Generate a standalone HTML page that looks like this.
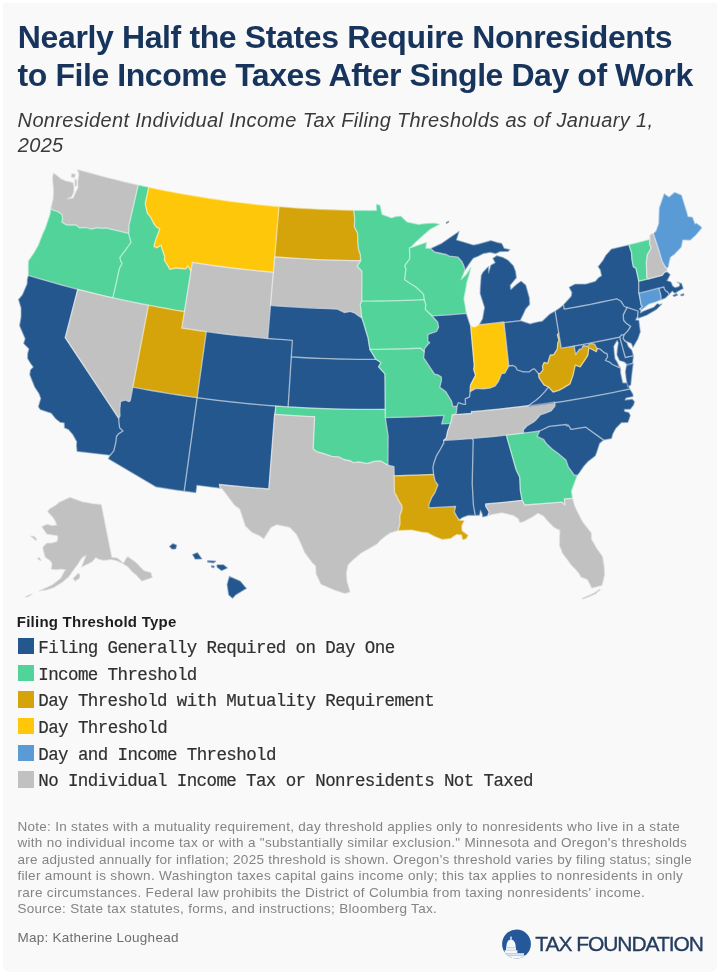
<!DOCTYPE html>
<html><head><meta charset="utf-8"><title>Nonresident Income Tax Filing Thresholds</title>
<style>
html,body{margin:0;padding:0;background:#fff;}
body{width:720px;height:977px;position:relative;overflow:hidden;}
#card{position:absolute;left:3px;top:3px;width:714px;height:969px;background:#f9f9f9;border-radius:0 0 7px 7px;}
.t{position:absolute;white-space:pre;}
.sw{position:absolute;left:17.75px;width:16.3px;height:16.3px;}
svg{position:absolute;left:0;top:0;}
</style></head><body>
<div id="card"></div>
<svg width="720" height="977" viewBox="0 0 720 977"><g stroke-width="0.4" stroke-linejoin="round">
<path id="WA" fill="#c1c1c1" stroke="#c1c1c1" d="M77.3,169.4L84.9,171.5L92.4,173.6L100.0,175.7L107.6,177.7L115.3,179.6L122.9,181.5L130.5,183.3L138.2,185.0L128.8,226.1L128.9,230.0L128.6,233.3L105.6,227.9L101.7,228.3L98.1,227.6L90.8,229.0L85.9,227.5L79.4,227.8L76.1,225.0L71.1,225.0L66.2,224.8L62.0,222.2L62.6,218.6L62.0,214.5L57.5,211.5L53.1,210.1L50.7,208.4L52.3,202.2L53.2,198.1L53.5,193.1L53.4,187.9L52.6,180.8L52.6,176.1L53.7,172.9L58.1,176.3L61.3,179.0L66.5,181.2L69.8,181.7L73.2,182.8L74.0,187.2L73.7,192.2L71.8,196.8L67.1,198.8L73.2,198.0L75.4,192.7L78.0,187.4L77.7,182.3L78.9,174.1ZM71.6,173.7L75.5,174.0L74.4,177.9L71.2,177.0ZM74.8,179.7L76.8,179.4L76.6,186.2L74.9,186.1Z"/>
<path id="OR" fill="#52d39a" stroke="#52d39a" d="M50.7,208.4L53.1,210.1L57.5,211.5L62.0,214.5L62.6,218.6L62.0,222.2L66.2,224.8L71.1,225.0L76.1,225.0L79.4,227.8L85.9,227.5L90.8,229.0L98.1,227.6L101.7,228.3L105.6,227.9L128.6,233.3L129.5,236.9L131.0,242.3L128.4,246.0L125.8,249.7L119.8,257.6L120.8,261.3L122.2,263.3L119.5,268.1L112.9,297.8L104.3,295.8L95.8,293.8L87.3,291.7L78.8,289.6L70.3,287.4L61.9,285.1L53.5,282.7L45.0,280.3L36.6,277.9L28.3,275.4L28.2,267.5L28.4,260.8L34.0,252.8L38.2,245.4L42.6,234.1L45.2,228.5L47.9,220.6L50.0,214.4L50.9,209.5Z"/>
<path id="CA" fill="#24578e" stroke="#24578e" d="M28.3,275.4L36.4,277.8L44.7,280.2L52.9,282.6L61.1,284.9L69.4,287.1L77.7,289.3L65.2,337.7L118.7,418.3L118.9,421.7L119.6,427.8L123.0,431.0L118.4,433.9L116.5,436.5L115.8,442.3L113.8,450.8L110.1,455.3L77.0,451.5L76.4,445.9L76.7,441.7L72.7,434.6L68.3,429.5L64.4,427.9L64.2,422.9L60.2,422.4L55.5,418.7L51.2,413.3L40.1,409.6L38.3,406.8L40.7,398.5L39.0,393.8L34.6,387.0L29.7,374.8L30.4,369.8L33.2,367.1L30.7,363.8L27.5,358.6L27.6,353.4L28.9,348.9L23.5,343.5L25.1,338.8L19.5,325.8L21.0,316.7L21.0,308.0L18.4,299.5L22.5,294.5L27.1,283.7L27.2,279.4Z"/>
<path id="NV" fill="#c1c1c1" stroke="#c1c1c1" d="M77.7,289.3L86.5,291.5L95.3,293.7L104.1,295.8L113.0,297.8L121.8,299.8L130.7,301.6L139.6,303.5L148.5,305.2L130.3,400.3L129.2,401.7L125.5,400.1L120.6,401.4L119.7,410.0L120.0,416.0L118.7,418.3L65.2,337.7Z"/>
<path id="ID" fill="#52d39a" stroke="#52d39a" d="M138.2,185.0L143.5,186.2L148.7,187.3L145.2,203.6L147.3,213.0L150.9,217.6L153.5,223.0L156.3,226.9L159.8,228.9L157.1,235.9L155.5,240.7L153.9,246.1L156.5,247.9L161.1,245.3L162.5,250.4L164.8,256.8L164.2,260.0L168.4,266.7L169.7,269.3L175.9,268.0L181.8,268.5L185.9,268.9L187.8,265.8L190.9,271.0L184.4,311.5L175.4,310.1L166.5,308.5L157.5,306.9L148.5,305.2L139.6,303.5L130.7,301.6L121.8,299.7L112.9,297.8L119.5,268.1L122.2,263.3L120.8,261.3L119.8,257.6L125.8,249.7L128.4,246.0L131.0,242.3L129.5,236.9L128.6,233.3L128.9,230.0L128.8,226.1L138.2,185.0Z"/>
<path id="MT" fill="#ffc70a" stroke="#ffc70a" d="M148.7,187.3L156.3,188.9L163.9,190.5L171.5,191.9L179.1,193.4L186.7,194.7L194.4,196.1L202.0,197.3L209.7,198.5L217.3,199.6L225.0,200.7L232.7,201.8L240.4,202.7L248.1,203.6L255.8,204.5L263.5,205.3L271.2,206.0L278.9,206.7L273.5,272.3L265.3,271.5L257.2,270.8L249.0,269.9L240.9,269.0L232.8,268.1L224.7,267.0L216.6,266.0L208.5,264.8L200.4,263.6L192.3,262.4L190.9,271.0L187.8,265.8L185.9,268.9L181.8,268.5L175.9,268.0L169.7,269.3L168.4,266.7L164.2,260.0L164.8,256.8L162.5,250.4L161.1,245.3L156.5,247.9L153.9,246.1L155.5,240.7L157.1,235.9L159.8,228.9L156.3,226.9L153.5,223.0L150.9,217.6L147.3,213.0L145.2,203.6L148.7,187.3Z"/>
<path id="WY" fill="#c1c1c1" stroke="#c1c1c1" d="M192.3,262.4L200.4,263.6L208.4,264.8L216.5,266.0L224.6,267.0L232.7,268.0L240.8,269.0L249.0,269.9L257.1,270.8L265.2,271.5L273.3,272.3L267.7,338.5L259.1,337.7L250.5,336.9L241.9,336.0L233.3,335.0L224.7,334.0L216.1,332.9L207.5,331.8L198.9,330.6L190.4,329.3L181.8,328.0Z"/>
<path id="UT" fill="#d4a40a" stroke="#d4a40a" d="M148.5,305.2L157.5,306.9L166.5,308.5L175.4,310.1L184.4,311.5L181.8,328.0L190.0,329.2L198.1,330.5L206.3,331.6L197.1,397.7L187.9,396.4L178.7,395.0L169.5,393.6L160.3,392.0L151.1,390.5L142.0,388.8L132.8,387.1Z"/>
<path id="CO" fill="#24578e" stroke="#24578e" d="M206.3,331.6L214.9,332.8L223.4,333.9L232.0,334.9L240.6,335.8L249.3,336.7L257.9,337.6L266.5,338.4L275.1,339.1L283.8,339.7L292.4,340.3L288.1,406.9L279.0,406.3L269.9,405.6L260.8,404.8L251.7,404.0L242.6,403.1L233.5,402.2L224.4,401.2L215.3,400.1L206.2,398.9L197.1,397.7Z"/>
<path id="AZ" fill="#24578e" stroke="#24578e" d="M132.8,387.1L142.0,388.8L151.1,390.5L160.3,392.0L169.5,393.6L178.7,395.0L187.9,396.4L197.1,397.7L184.2,491.2L174.9,489.9L165.5,488.5L156.1,487.0L108.2,458.8L110.1,455.3L113.8,450.8L115.8,442.3L116.5,436.5L118.4,433.9L123.0,431.0L119.6,427.8L118.9,421.7L118.7,418.3L120.0,416.0L119.7,410.0L120.6,401.4L125.5,400.1L129.2,401.7L130.3,400.3Z"/>
<path id="NM" fill="#24578e" stroke="#24578e" d="M197.1,397.7L205.9,398.9L214.6,400.0L223.3,401.0L232.0,402.0L240.8,402.9L249.5,403.8L258.2,404.6L267.0,405.3L275.8,406.0L274.6,414.3L268.8,489.0L258.9,488.2L249.0,487.4L239.1,486.4L229.2,485.5L219.4,484.4L220.2,488.2L212.4,487.3L204.7,486.3L196.9,485.3L195.9,492.8L190.1,492.0L184.2,491.2Z"/>
<path id="ND" fill="#d4a40a" stroke="#d4a40a" d="M278.9,206.7L286.4,207.3L293.8,207.9L301.3,208.4L308.8,208.8L316.3,209.2L323.7,209.6L331.2,209.8L338.7,210.1L346.2,210.3L353.7,210.4L354.7,218.6L354.3,226.7L357.6,233.3L357.8,243.2L358.6,249.8L360.3,254.2L360.7,260.7L352.1,260.6L343.5,260.4L334.9,260.2L326.3,259.9L317.7,259.6L309.0,259.1L300.4,258.7L291.8,258.1L283.2,257.5L274.7,256.8Z"/>
<path id="SD" fill="#c1c1c1" stroke="#c1c1c1" d="M274.7,256.8L283.2,257.5L291.8,258.1L300.4,258.7L309.0,259.1L317.7,259.6L326.3,259.9L334.9,260.2L343.5,260.4L352.1,260.6L360.7,260.7L357.2,266.3L361.9,271.3L361.8,301.1L360.2,304.4L360.9,309.4L361.8,317.9L358.7,316.0L355.1,313.2L350.3,311.4L344.3,312.5L337.1,309.0L328.8,308.7L320.5,308.4L312.1,308.1L303.8,307.6L295.5,307.1L287.2,306.6L278.9,306.0L270.5,305.3Z"/>
<path id="NE" fill="#24578e" stroke="#24578e" d="M270.5,305.3L278.9,306.0L287.2,306.6L295.5,307.1L303.8,307.6L312.1,308.1L320.5,308.4L328.8,308.7L337.1,309.0L344.3,312.5L350.3,311.4L355.1,313.2L358.7,316.0L361.8,317.9L363.5,322.7L365.9,331.0L368.0,337.7L369.0,344.3L370.0,349.7L373.4,355.2L375.8,359.3L366.4,359.3L357.0,359.3L347.6,359.2L338.2,359.0L328.9,358.7L319.5,358.4L310.1,358.0L300.7,357.5L291.3,356.9L292.4,340.3L284.2,339.7L275.9,339.1L267.7,338.5Z"/>
<path id="KS" fill="#24578e" stroke="#24578e" d="M291.3,356.9L300.7,357.5L310.1,358.0L319.5,358.4L328.9,358.7L338.2,359.0L347.6,359.2L357.0,359.3L366.4,359.3L375.8,359.3L381.0,362.6L378.5,366.8L384.9,373.9L385.2,409.3L375.5,409.4L365.8,409.4L356.1,409.3L346.4,409.2L336.6,409.0L326.9,408.7L317.2,408.4L307.5,408.0L297.8,407.5L288.1,406.9Z"/>
<path id="OK" fill="#52d39a" stroke="#52d39a" d="M275.8,406.0L284.9,406.7L294.0,407.2L303.1,407.7L312.2,408.2L321.3,408.5L330.4,408.8L339.6,409.1L348.7,409.3L357.8,409.4L366.9,409.4L376.1,409.4L385.2,409.3L385.3,417.6L388.1,435.9L387.9,465.2L380.8,461.0L374.0,461.4L367.2,463.6L359.0,461.9L353.5,462.7L350.8,461.0L344.0,459.5L338.7,456.9L331.9,456.4L323.8,453.7L317.1,451.8L313.2,448.9L314.6,416.6L306.7,416.3L298.8,415.9L290.9,415.4L283.0,414.9L275.1,414.3Z"/>
<path id="TX" fill="#c1c1c1" stroke="#c1c1c1" d="M274.6,414.3L282.6,414.9L290.6,415.4L298.6,415.8L306.6,416.3L314.6,416.6L313.2,448.9L317.1,451.8L323.8,453.7L331.9,456.4L338.7,456.9L344.0,459.5L350.8,461.0L353.5,462.7L359.0,461.9L367.2,463.6L374.0,461.4L380.8,461.0L387.9,465.2L394.0,466.6L394.1,475.4L394.5,492.5L396.5,495.6L397.7,498.9L402.0,505.8L401.8,510.4L399.8,515.5L400.0,523.7L398.1,530.4L390.2,533.0L385.2,536.4L380.2,540.6L377.3,543.9L367.2,549.7L361.3,553.0L352.5,560.4L348.0,565.3L346.4,573.5L347.1,581.7L349.9,590.7L349.9,592.2L344.6,593.6L334.2,590.1L320.9,584.3L316.1,574.3L315.6,566.1L312.1,562.7L304.5,552.4L301.8,545.7L296.6,534.7L289.8,527.4L277.0,524.8L271.1,527.4L263.8,538.9L259.0,535.6L252.0,532.5L245.3,526.1L243.1,519.3L239.7,509.0L234.4,505.2L226.9,495.2L222.0,488.8L220.2,488.2L219.4,484.4L229.2,485.5L239.1,486.4L249.0,487.4L258.9,488.2L268.8,489.0Z"/>
<path id="MN" fill="#52d39a" stroke="#52d39a" d="M353.7,210.4L361.3,210.4L368.9,210.5L376.5,210.4L376.4,204.2L380.0,205.2L382.0,214.4L391.5,217.9L395.9,216.6L400.8,216.1L407.1,222.0L418.4,224.4L425.6,223.6L433.9,223.1L439.7,224.2L430.6,229.0L423.4,235.2L416.2,241.8L411.5,246.4L409.4,248.0L409.8,257.7L409.1,259.7L404.7,265.7L406.0,268.9L405.1,275.6L404.6,279.7L410.6,283.7L415.5,286.8L421.7,292.3L423.6,294.7L424.2,299.7L415.3,300.1L406.4,300.4L397.4,300.7L388.5,300.9L379.6,301.0L370.7,301.1L361.8,301.1L361.9,271.3L357.2,266.3L360.7,260.7L360.3,254.2L358.6,249.8L357.8,243.2L357.6,233.3L354.3,226.7L354.7,218.6L353.7,210.4Z"/>
<path id="IA" fill="#52d39a" stroke="#52d39a" d="M361.8,301.1L370.7,301.1L379.6,301.0L388.5,300.9L397.4,300.7L406.4,300.4L415.3,300.1L424.2,299.7L425.8,304.6L425.3,309.6L432.0,315.7L437.7,322.2L438.6,327.1L436.5,331.5L428.0,334.4L427.7,341.1L429.7,342.7L427.9,344.4L424.4,348.8L424.3,351.6L420.2,348.0L420.3,348.1L411.9,348.5L403.5,348.8L395.1,349.0L386.8,349.2L378.4,349.3L370.0,349.3L370.0,349.7L369.0,344.3L368.0,337.7L365.9,331.0L363.5,322.7L361.8,317.9L360.9,309.4L360.2,304.4L361.8,301.1Z"/>
<path id="MO" fill="#52d39a" stroke="#52d39a" d="M370.0,349.7L370.0,349.3L378.4,349.3L386.8,349.2L395.1,349.0L403.5,348.8L411.9,348.5L420.3,348.1L424.3,351.6L423.6,358.0L424.9,359.6L429.7,366.9L434.5,374.1L437.8,374.8L441.3,377.1L441.5,379.9L439.8,387.2L445.9,391.8L451.7,401.5L452.7,406.4L456.9,406.5L456.4,412.9L453.9,414.7L452.2,414.8L451.6,419.9L450.5,423.3L446.1,423.6L441.7,423.9L444.1,415.4L434.3,415.9L424.5,416.4L414.7,416.8L404.9,417.2L395.1,417.4L385.3,417.6L384.9,373.9L378.5,366.8L381.0,362.6L375.8,359.3L373.4,355.2L370.0,349.7Z"/>
<path id="AR" fill="#24578e" stroke="#24578e" d="M385.3,417.6L395.1,417.4L404.9,417.2L414.7,416.8L424.5,416.4L434.3,415.9L444.1,415.4L441.7,423.9L446.1,423.6L450.5,423.3L447.7,431.0L446.2,438.1L443.6,440.4L443.8,442.9L440.5,449.0L436.4,455.9L434.0,462.7L432.9,467.7L433.6,474.3L423.8,474.8L413.9,475.2L404.0,475.5L394.2,475.8L394.0,466.6L387.9,465.2L388.1,435.9Z"/>
<path id="LA" fill="#d4a40a" stroke="#d4a40a" d="M394.1,475.4L394.2,475.8L404.0,475.5L413.9,475.2L423.8,474.8L433.6,474.3L435.0,480.9L437.9,484.9L434.9,492.6L431.6,497.7L429.1,503.7L428.8,507.8L437.8,507.4L446.7,506.9L455.6,506.3L454.3,511.9L457.5,517.8L459.5,519.7L458.4,520.2L464.2,520.7L461.7,525.8L462.0,530.8L468.1,535.3L466.2,538.7L462.6,539.8L461.6,534.9L456.5,534.5L452.3,537.2L450.9,538.4L442.3,539.4L434.9,536.5L427.5,532.7L421.8,532.1L411.6,530.0L398.1,530.4L400.0,523.7L399.8,515.5L401.8,510.4L402.0,505.8L397.7,498.9L396.5,495.6L394.5,492.5Z"/>
<path id="WI" fill="#52d39a" stroke="#52d39a" d="M409.4,248.0L412.6,247.2L421.6,244.0L426.6,242.4L425.8,248.2L430.7,248.4L434.4,252.0L446.2,254.5L449.2,256.1L458.0,257.2L461.8,261.4L464.0,266.2L464.9,270.3L461.0,279.7L466.4,274.3L471.0,267.2L468.9,275.7L466.9,281.7L465.5,290.2L463.8,298.6L464.9,304.4L466.3,313.6L466.3,313.4L457.7,314.1L449.2,314.8L440.6,315.4L432.0,315.9L432.0,315.7L425.3,309.6L425.8,304.6L424.2,299.7L423.6,294.7L421.7,292.3L415.5,286.8L410.6,283.7L404.6,279.7L405.1,275.6L406.0,268.9L404.7,265.7L409.1,259.7L409.8,257.7L409.4,248.0Z"/>
<path id="IL" fill="#24578e" stroke="#24578e" d="M432.0,315.7L432.0,315.9L440.6,315.4L449.2,314.8L457.7,314.1L466.3,313.4L469.7,324.0L470.7,326.4L474.2,365.4L473.7,369.6L475.5,375.3L472.8,380.6L470.5,385.0L470.1,391.7L469.6,396.8L465.2,398.8L465.6,404.3L463.7,404.3L458.3,402.7L456.9,406.5L452.7,406.4L451.7,401.5L445.9,391.8L439.8,387.2L441.5,379.9L441.3,377.1L437.8,374.8L434.5,374.1L429.7,366.9L424.9,359.6L423.6,358.0L424.3,351.6L424.4,348.8L427.9,344.4L429.7,342.7L427.7,341.1L428.0,334.4L436.5,331.5L438.6,327.1L437.7,322.2L432.0,315.7Z"/>
<path id="IN" fill="#ffc70a" stroke="#ffc70a" d="M470.7,326.4L474.9,327.2L479.3,324.6L487.5,323.8L495.7,322.9L503.9,322.0L508.8,366.0L504.8,373.2L501.6,373.6L498.6,381.1L495.2,386.0L489.6,388.2L483.2,388.9L475.8,388.4L470.1,391.7L470.5,385.0L472.8,380.6L475.5,375.3L473.7,369.6L474.2,365.4Z"/>
<path id="MI" fill="#24578e" stroke="#24578e" d="M479.3,324.6L482.6,318.6L484.5,307.5L480.1,293.8L480.2,287.9L481.2,275.3L483.2,271.8L488.5,266.2L488.6,272.9L490.7,265.2L495.1,262.7L492.8,258.3L496.8,255.6L503.2,257.4L508.2,260.2L513.3,265.6L515.6,271.3L516.5,277.8L510.3,285.3L510.8,289.4L516.2,284.6L521.1,281.0L525.8,284.9L529.4,297.8L529.8,304.5L525.6,309.3L523.2,314.6L520.3,320.4L520.3,320.6L512.1,321.6L503.9,322.6L503.9,322.0L495.7,322.9L487.5,323.8L479.3,324.6ZM430.7,248.4L441.7,243.3L450.0,237.5L459.2,231.3L457.5,236.7L456.5,240.0L466.7,243.0L473.3,245.0L478.3,244.0L490.8,240.5L497.5,242.5L501.7,243.3L504.2,248.3L510.0,249.5L508.3,251.5L500.0,251.7L495.8,253.7L490.0,252.5L483.3,253.7L478.3,256.3L473.3,258.3L470.8,261.7L464.9,270.3L464.0,266.2L461.8,261.4L458.0,257.2L449.2,256.1L446.2,254.5L434.4,252.0L430.7,248.4ZM446.0,222.5L448.5,221.0L449.0,222.0L446.5,223.8Z"/>
<path id="OH" fill="#24578e" stroke="#24578e" d="M504.0,322.9L503.9,322.6L512.1,321.6L520.3,320.6L526.2,322.6L530.1,323.8L538.5,321.7L542.1,321.2L549.7,314.1L555.1,311.0L558.7,333.0L557.4,334.8L558.9,340.4L557.8,342.8L557.2,349.2L553.6,354.8L550.4,355.0L549.4,357.6L547.8,363.3L544.1,362.5L542.5,366.3L543.0,369.9L540.3,373.3L538.5,373.6L534.5,368.9L532.6,369.2L529.1,371.9L523.3,371.8L517.3,370.0L515.6,366.9L512.9,365.5L508.8,366.0Z"/>
<path id="KY" fill="#24578e" stroke="#24578e" d="M508.8,366.0L512.9,365.5L515.6,366.9L517.3,370.0L523.3,371.8L529.1,371.9L532.6,369.2L534.5,368.9L538.5,373.6L539.0,377.7L543.9,384.9L548.5,387.0L544.9,391.6L540.3,396.4L535.6,400.4L528.6,405.6L519.1,406.8L509.6,407.9L500.1,409.0L490.6,409.9L481.0,410.9L471.5,411.7L471.4,413.4L462.7,414.1L453.9,414.7L456.4,412.9L456.9,406.5L458.3,402.7L463.7,404.3L465.6,404.3L465.2,398.8L469.6,396.8L470.1,391.7L475.8,388.4L483.2,388.9L489.6,388.2L495.2,386.0L498.6,381.1L501.6,373.6L504.8,373.2L508.8,366.0Z"/>
<path id="TN" fill="#c1c1c1" stroke="#c1c1c1" d="M554.6,402.1L555.0,406.1L551.0,410.9L544.1,413.6L540.2,415.0L536.2,419.7L533.2,422.3L526.9,426.0L523.4,429.8L523.5,433.3L523.5,433.1L513.6,434.3L503.6,435.4L493.6,436.5L483.6,437.4L473.6,438.3L463.6,439.1L453.6,439.8L443.6,440.4L446.2,438.1L447.7,431.0L450.5,423.3L451.6,419.9L452.2,414.8L453.9,414.7L462.7,414.1L471.4,413.4L471.5,411.2L471.5,411.7L480.8,410.9L490.0,410.0L499.3,409.1L508.5,408.0L517.8,406.9L527.0,405.8L536.2,404.6L545.4,403.3L554.6,401.9Z"/>
<path id="MS" fill="#24578e" stroke="#24578e" d="M443.6,440.4L453.0,439.8L462.4,439.2L471.7,438.4L473.2,440.0L472.2,483.5L473.4,505.0L475.2,515.4L468.1,515.4L462.5,517.5L459.5,519.7L457.5,517.8L454.3,511.9L455.6,506.3L446.7,506.9L437.8,507.4L428.8,507.8L429.1,503.7L431.6,497.7L434.9,492.6L437.9,484.9L435.0,480.9L433.6,474.3L432.9,467.7L434.0,462.7L436.4,455.9L440.5,449.0L443.8,442.9L443.6,440.4Z"/>
<path id="AL" fill="#24578e" stroke="#24578e" d="M471.7,438.4L480.4,437.7L489.0,436.9L497.7,436.0L506.3,435.1L506.4,435.5L516.1,469.7L519.7,477.2L520.3,490.5L522.1,500.3L513.0,501.3L503.9,502.3L494.8,503.2L485.6,504.0L485.8,506.5L489.2,512.0L487.8,515.8L482.5,517.1L482.2,514.3L480.5,510.3L479.5,515.3L475.2,515.4L473.4,505.0L472.2,483.5L473.2,440.0L471.7,438.4Z"/>
<path id="GA" fill="#52d39a" stroke="#52d39a" d="M506.4,435.5L506.3,435.1L514.7,434.2L523.0,433.2L531.3,432.1L539.6,431.0L537.1,436.4L543.7,439.7L546.3,443.6L551.8,448.7L558.8,454.0L565.9,460.0L568.4,467.2L572.9,473.2L573.8,474.8L577.2,475.4L574.4,483.1L571.4,491.1L572.5,498.1L570.4,498.5L564.3,498.9L565.0,505.1L562.1,502.2L524.7,505.0L522.1,500.3L520.3,490.5L519.7,477.2L516.1,469.7L506.4,435.5Z"/>
<path id="FL" fill="#c1c1c1" stroke="#c1c1c1" d="M485.6,504.0L494.8,503.2L503.9,502.3L513.0,501.3L522.1,500.3L524.7,505.0L562.1,502.2L565.0,505.1L564.3,498.9L570.4,498.5L572.5,498.1L574.4,505.0L577.1,511.1L582.8,522.0L591.4,532.9L591.4,539.0L596.6,548.1L602.5,556.4L604.3,566.8L604.6,575.0L603.0,581.9L602.0,585.4L591.8,588.2L587.3,579.5L580.9,577.2L578.8,573.3L574.3,568.2L570.7,564.6L567.0,559.3L562.4,553.3L561.1,549.4L559.4,546.0L559.5,538.0L559.9,530.4L553.9,527.4L547.7,521.2L543.4,516.0L538.0,513.3L533.4,516.4L524.6,521.3L519.7,522.7L518.5,519.0L513.9,515.7L502.1,512.8L492.3,514.5L487.8,515.8L489.2,512.0L485.8,506.5L485.6,504.0ZM582.7,599.2L590.0,596.4L595.7,593.9L600.5,589.8L599.6,589.1L594.1,593.0L582.5,598.1Z"/>
<path id="SC" fill="#24578e" stroke="#24578e" d="M539.6,431.0L549.2,426.3L566.7,424.5L567.0,426.1L568.3,425.1L571.0,429.4L585.8,427.2L603.7,440.1L599.6,443.6L596.7,452.4L595.3,456.0L588.1,461.5L583.7,466.4L579.2,473.1L577.2,475.4L573.8,474.8L572.9,473.2L568.4,467.2L565.9,460.0L558.8,454.0L551.8,448.7L546.3,443.6L543.7,439.7L537.1,436.4L539.6,431.0Z"/>
<path id="NC" fill="#24578e" stroke="#24578e" d="M523.5,433.3L523.4,429.8L526.9,426.0L533.2,422.3L536.2,419.7L540.2,415.0L544.1,413.6L551.0,410.9L555.0,406.1L554.6,402.1L554.7,402.7L564.2,401.3L573.6,399.7L583.0,398.1L592.4,396.4L601.8,394.7L611.2,392.8L620.5,390.9L629.9,389.0L633.0,394.3L633.1,396.6L626.0,398.1L625.1,400.0L632.3,399.0L634.6,401.6L633.6,405.2L630.4,409.3L624.3,409.4L624.7,411.4L629.0,412.5L630.4,415.6L628.0,422.6L621.5,422.7L615.8,428.5L612.8,434.1L611.6,438.6L603.7,440.1L585.8,427.2L571.0,429.4L568.3,425.1L567.0,426.1L566.7,424.5L549.2,426.3L539.6,431.0L531.6,432.1L523.5,433.1Z"/>
<path id="VA" fill="#24578e" stroke="#24578e" d="M528.6,405.6L535.6,400.4L540.3,396.4L544.9,391.6L548.5,387.0L553.1,392.0L558.9,390.4L563.4,387.9L570.0,383.9L573.0,375.3L575.3,365.1L580.2,366.9L584.6,360.4L587.8,355.4L588.9,347.7L596.4,351.7L597.2,348.5L599.7,348.8L604.1,352.6L607.0,353.7L607.6,357.0L605.3,360.5L609.2,361.8L612.4,364.5L620.5,368.1L620.7,373.0L622.8,382.8L626.9,383.1L629.9,389.0L620.7,390.9L611.6,392.8L602.4,394.6L593.2,396.3L584.1,397.9L574.9,399.5L565.6,401.0L556.4,402.5L547.2,403.9L537.9,405.2L528.7,406.4ZM626.7,364.2L633.3,363.3L632.0,373.3L630.8,385.0L627.8,387.0L626.3,380.0L625.3,371.7Z"/>
<path id="WV" fill="#d4a40a" stroke="#d4a40a" d="M538.5,373.6L540.3,373.3L543.0,369.9L542.5,366.3L544.1,362.5L547.8,363.3L549.4,357.6L550.4,355.0L553.6,354.8L557.2,349.2L557.8,342.8L558.9,340.4L557.4,334.8L558.7,333.0L561.2,348.2L567.7,347.1L574.1,346.0L575.6,354.5L579.6,349.2L581.5,349.2L583.3,345.5L587.4,346.5L590.3,343.4L594.7,344.2L595.8,346.6L597.2,348.5L596.4,351.7L588.9,347.7L587.8,355.4L584.6,360.4L580.2,366.9L575.3,365.1L573.0,375.3L570.0,383.9L563.4,387.9L558.9,390.4L553.1,392.0L548.5,387.0L543.9,384.9L539.0,377.7L538.5,373.6Z"/>
<path id="MD" fill="#24578e" stroke="#24578e" d="M574.1,346.0L583.3,344.3L592.4,342.6L601.5,340.8L610.6,339.0L619.7,337.1L625.3,357.4L625.3,357.5L629.4,356.6L633.5,355.7L632.6,363.1L627.7,365.5L624.3,362.0L619.4,360.5L616.9,355.0L617.2,349.9L618.3,342.8L617.1,340.5L613.8,346.3L614.2,351.4L615.1,358.8L617.1,361.8L619.0,365.9L620.5,368.1L612.4,364.5L609.2,361.8L605.3,360.5L607.6,357.0L607.0,353.7L604.1,352.6L599.7,348.8L597.2,348.5L595.8,346.6L594.7,344.2L590.3,343.4L587.4,346.5L583.3,345.5L581.5,349.2L579.6,349.2L575.6,354.5Z"/>
<path id="DE" fill="#24578e" stroke="#24578e" d="M619.7,337.1L621.7,334.8L624.0,334.8L623.1,338.4L624.3,340.7L626.9,342.7L628.4,346.6L631.8,350.1L633.5,355.7L629.4,356.6L625.3,357.5Z"/>
<path id="NJ" fill="#24578e" stroke="#24578e" d="M627.1,307.4L638.0,311.0L637.7,316.2L635.7,320.1L638.9,320.2L640.4,331.9L637.9,339.1L633.0,347.6L631.3,343.4L625.7,341.2L623.1,338.4L624.0,334.8L627.4,331.4L630.7,326.4L626.2,323.2L623.6,320.3L623.3,314.9L627.1,307.4Z"/>
<path id="PA" fill="#24578e" stroke="#24578e" d="M555.1,311.0L560.0,307.7L563.4,304.7L564.2,309.1L573.0,307.6L581.8,306.0L590.6,304.3L599.3,302.5L608.1,300.7L616.8,298.8L621.0,301.3L624.3,306.5L627.1,307.4L623.3,314.9L623.6,320.3L626.2,323.2L630.7,326.4L627.4,331.4L624.0,334.8L621.7,334.8L619.7,337.1L611.4,338.8L603.1,340.5L594.7,342.2L586.4,343.8L578.0,345.3L569.6,346.8L561.2,348.2Z"/>
<path id="NY" fill="#24578e" stroke="#24578e" d="M563.4,304.7L571.3,296.1L571.8,292.6L569.0,287.2L575.1,284.0L586.1,284.0L595.3,281.3L598.3,277.8L601.5,275.8L600.3,270.1L598.0,266.7L603.0,260.2L605.6,255.4L611.3,249.0L613.6,248.5L621.3,246.7L629.0,244.9L628.9,244.7L631.5,252.8L631.9,259.5L633.3,266.8L635.9,268.4L638.7,280.9L638.7,292.9L638.9,292.9L641.1,305.2L642.3,306.4L639.7,308.9L641.0,310.3L640.4,313.0L643.1,311.2L649.0,308.9L653.6,307.2L657.4,303.4L659.3,304.4L662.2,303.8L656.7,309.4L646.7,315.3L638.0,318.4L637.7,316.2L638.0,311.0L627.1,307.4L624.3,306.5L621.0,301.3L616.8,298.8L608.1,300.7L599.3,302.5L590.6,304.3L581.8,306.0L573.0,307.6L564.2,309.1Z"/>
<path id="CT" fill="#5b9bd5" stroke="#5b9bd5" d="M638.9,292.9L638.9,293.0L645.6,291.4L652.2,289.7L658.9,288.0L658.9,288.3L660.8,295.1L661.2,299.8L655.5,302.1L649.0,304.1L645.8,306.6L641.0,310.3L639.7,308.9L642.3,306.4L641.1,305.2L638.9,292.9Z"/>
<path id="RI" fill="#24578e" stroke="#24578e" d="M658.9,288.3L661.4,287.7L663.9,287.0L664.4,289.0L665.5,290.7L667.5,291.9L669.2,294.6L668.4,295.3L665.5,298.0L661.2,299.8L660.8,295.1L658.9,288.3Z"/>
<path id="MA" fill="#24578e" stroke="#24578e" d="M638.7,280.9L638.8,281.2L646.7,279.3L654.5,277.3L662.4,275.2L664.7,272.2L666.8,271.6L670.3,274.5L667.9,279.4L666.9,280.5L671.1,282.0L672.8,285.9L675.1,287.5L678.7,286.5L679.8,285.1L678.6,282.5L676.8,282.1L681.6,283.4L683.3,288.6L678.6,291.0L674.9,293.4L672.3,291.2L669.2,294.6L667.5,291.9L665.5,290.7L664.4,289.0L663.9,287.0L655.6,289.2L647.3,291.3L639.0,293.4L638.7,292.9ZM672.8,295.3L676.8,293.4L677.9,295.2L673.9,296.8ZM680.3,294.7L683.6,293.6L684.1,295.3L681.3,296.1Z"/>
<path id="VT" fill="#52d39a" stroke="#52d39a" d="M628.9,244.7L635.9,243.0L642.9,241.2L649.8,239.4L649.5,244.0L651.2,248.0L647.3,254.8L646.3,262.8L646.6,269.5L646.7,272.4L646.7,277.2L648.3,278.9L643.5,280.1L638.8,281.2L638.7,280.9L635.9,268.4L633.3,266.8L631.9,259.5L631.5,252.8L628.9,244.7Z"/>
<path id="NH" fill="#c1c1c1" stroke="#c1c1c1" d="M649.8,239.4L649.9,235.3L650.9,234.2L653.3,233.5L656.7,243.8L658.5,249.3L662.1,261.2L665.7,267.6L667.1,268.1L666.8,271.6L664.7,272.2L662.3,275.1L662.4,275.4L655.4,277.2L648.3,279.1L648.3,278.9L646.7,277.2L646.7,272.4L646.6,269.5L646.3,262.8L647.3,254.8L651.2,248.0L649.5,244.0L649.8,239.4Z"/>
<path id="ME" fill="#5b9bd5" stroke="#5b9bd5" d="M653.3,233.5L656.0,231.1L658.7,223.5L658.9,217.5L659.2,208.0L664.2,193.5L666.8,195.5L669.0,196.9L674.6,192.2L681.5,195.1L687.0,212.7L688.0,216.7L692.4,217.1L695.1,224.0L696.3,223.0L701.0,226.5L701.9,228.0L696.1,235.0L690.3,240.2L682.8,239.9L681.3,247.2L674.6,254.3L670.5,257.2L669.3,261.8L668.3,267.2L667.1,268.1L665.7,267.6L662.1,261.2L658.5,249.3L656.7,243.8L653.3,233.5Z"/>
<path id="AK" fill="#c1c1c1" stroke="#c1c1c1" d="M101.3,504.4L111.8,557.3L117.4,557.9L123.5,563.0L125.5,559.2L127.8,556.4L136.1,562.4L144.1,570.7L150.9,572.6L152.5,577.5L148.1,579.1L141.8,581.2L136.6,575.6L132.3,572.0L127.6,566.7L122.1,563.3L116.0,560.6L110.7,559.6L103.6,560.5L97.6,559.0L96.0,557.4L92.1,561.9L88.0,564.0L81.4,567.2L82.2,564.9L86.0,555.4L81.9,557.9L77.8,564.4L74.3,569.1L68.7,577.1L62.1,582.6L53.6,587.7L46.8,589.9L38.8,591.0L45.4,587.9L52.3,584.7L60.9,577.9L64.3,571.1L65.9,570.0L61.5,569.2L55.4,569.8L51.0,569.1L52.1,564.2L50.5,561.1L45.2,557.4L43.4,551.2L42.8,547.0L46.7,543.0L51.5,543.1L56.9,541.4L57.6,539.2L57.5,535.7L52.6,535.1L46.7,534.1L44.5,530.8L41.6,526.7L47.0,524.2L52.0,525.6L56.7,525.1L55.3,521.4L53.1,517.7L47.5,511.7L49.3,508.9L55.6,505.3L59.0,502.3L70.1,497.2L76.8,499.8L82.8,501.9L86.8,502.4L92.9,503.7ZM80.1,574.8L79.6,578.3L74.9,581.2L73.0,578.3L76.4,574.9L78.2,573.1ZM32.5,594.0L28.4,596.7L24.8,597.1L29.6,594.6ZM30.5,535.9L35.9,540.8L36.8,539.3L34.4,536.3ZM39.4,557.6L41.3,560.3L40.3,560.7L36.9,558.3Z"/>
<path id="HI" fill="#24578e" stroke="#24578e" d="M229.3,576.2L240.3,581.1L246.6,588.4L235.7,595.1L232.6,598.4L228.6,595.1L227.0,584.4ZM216.9,564.7L223.8,564.7L227.7,568.0L221.5,570.8L216.9,567.2ZM207.5,560.6L216.1,561.1L213.8,563.1L207.5,562.2ZM192.4,554.5L197.5,552.4L202.1,558.9L195.1,559.3ZM169.2,546.4L172.8,543.5L176.7,544.9L175.9,549.0L172.0,549.2ZM211.4,565.5L214.5,566.0L213.8,568.0L211.4,567.2Z"/>
</g>
<g fill="none" stroke="#ffffff" stroke-opacity="0.32" stroke-width="1.3" stroke-linejoin="round">
<path d="M77.3,169.4L84.9,171.5L92.4,173.6L100.0,175.7L107.6,177.7L115.3,179.6L122.9,181.5L130.5,183.3L138.2,185.0L128.8,226.1L128.9,230.0L128.6,233.3L105.6,227.9L101.7,228.3L98.1,227.6L90.8,229.0L85.9,227.5L79.4,227.8L76.1,225.0L71.1,225.0L66.2,224.8L62.0,222.2L62.6,218.6L62.0,214.5L57.5,211.5L53.1,210.1L50.7,208.4L52.3,202.2L53.2,198.1L53.5,193.1L53.4,187.9L52.6,180.8L52.6,176.1L53.7,172.9L58.1,176.3L61.3,179.0L66.5,181.2L69.8,181.7L73.2,182.8L74.0,187.2L73.7,192.2L71.8,196.8L67.1,198.8L73.2,198.0L75.4,192.7L78.0,187.4L77.7,182.3L78.9,174.1ZM71.6,173.7L75.5,174.0L74.4,177.9L71.2,177.0ZM74.8,179.7L76.8,179.4L76.6,186.2L74.9,186.1Z"/>
<path d="M50.7,208.4L53.1,210.1L57.5,211.5L62.0,214.5L62.6,218.6L62.0,222.2L66.2,224.8L71.1,225.0L76.1,225.0L79.4,227.8L85.9,227.5L90.8,229.0L98.1,227.6L101.7,228.3L105.6,227.9L128.6,233.3L129.5,236.9L131.0,242.3L128.4,246.0L125.8,249.7L119.8,257.6L120.8,261.3L122.2,263.3L119.5,268.1L112.9,297.8L104.3,295.8L95.8,293.8L87.3,291.7L78.8,289.6L70.3,287.4L61.9,285.1L53.5,282.7L45.0,280.3L36.6,277.9L28.3,275.4L28.2,267.5L28.4,260.8L34.0,252.8L38.2,245.4L42.6,234.1L45.2,228.5L47.9,220.6L50.0,214.4L50.9,209.5Z"/>
<path d="M28.3,275.4L36.4,277.8L44.7,280.2L52.9,282.6L61.1,284.9L69.4,287.1L77.7,289.3L65.2,337.7L118.7,418.3L118.9,421.7L119.6,427.8L123.0,431.0L118.4,433.9L116.5,436.5L115.8,442.3L113.8,450.8L110.1,455.3L77.0,451.5L76.4,445.9L76.7,441.7L72.7,434.6L68.3,429.5L64.4,427.9L64.2,422.9L60.2,422.4L55.5,418.7L51.2,413.3L40.1,409.6L38.3,406.8L40.7,398.5L39.0,393.8L34.6,387.0L29.7,374.8L30.4,369.8L33.2,367.1L30.7,363.8L27.5,358.6L27.6,353.4L28.9,348.9L23.5,343.5L25.1,338.8L19.5,325.8L21.0,316.7L21.0,308.0L18.4,299.5L22.5,294.5L27.1,283.7L27.2,279.4Z"/>
<path d="M77.7,289.3L86.5,291.5L95.3,293.7L104.1,295.8L113.0,297.8L121.8,299.8L130.7,301.6L139.6,303.5L148.5,305.2L130.3,400.3L129.2,401.7L125.5,400.1L120.6,401.4L119.7,410.0L120.0,416.0L118.7,418.3L65.2,337.7Z"/>
<path d="M138.2,185.0L143.5,186.2L148.7,187.3L145.2,203.6L147.3,213.0L150.9,217.6L153.5,223.0L156.3,226.9L159.8,228.9L157.1,235.9L155.5,240.7L153.9,246.1L156.5,247.9L161.1,245.3L162.5,250.4L164.8,256.8L164.2,260.0L168.4,266.7L169.7,269.3L175.9,268.0L181.8,268.5L185.9,268.9L187.8,265.8L190.9,271.0L184.4,311.5L175.4,310.1L166.5,308.5L157.5,306.9L148.5,305.2L139.6,303.5L130.7,301.6L121.8,299.7L112.9,297.8L119.5,268.1L122.2,263.3L120.8,261.3L119.8,257.6L125.8,249.7L128.4,246.0L131.0,242.3L129.5,236.9L128.6,233.3L128.9,230.0L128.8,226.1L138.2,185.0Z"/>
<path d="M148.7,187.3L156.3,188.9L163.9,190.5L171.5,191.9L179.1,193.4L186.7,194.7L194.4,196.1L202.0,197.3L209.7,198.5L217.3,199.6L225.0,200.7L232.7,201.8L240.4,202.7L248.1,203.6L255.8,204.5L263.5,205.3L271.2,206.0L278.9,206.7L273.5,272.3L265.3,271.5L257.2,270.8L249.0,269.9L240.9,269.0L232.8,268.1L224.7,267.0L216.6,266.0L208.5,264.8L200.4,263.6L192.3,262.4L190.9,271.0L187.8,265.8L185.9,268.9L181.8,268.5L175.9,268.0L169.7,269.3L168.4,266.7L164.2,260.0L164.8,256.8L162.5,250.4L161.1,245.3L156.5,247.9L153.9,246.1L155.5,240.7L157.1,235.9L159.8,228.9L156.3,226.9L153.5,223.0L150.9,217.6L147.3,213.0L145.2,203.6L148.7,187.3Z"/>
<path d="M192.3,262.4L200.4,263.6L208.4,264.8L216.5,266.0L224.6,267.0L232.7,268.0L240.8,269.0L249.0,269.9L257.1,270.8L265.2,271.5L273.3,272.3L267.7,338.5L259.1,337.7L250.5,336.9L241.9,336.0L233.3,335.0L224.7,334.0L216.1,332.9L207.5,331.8L198.9,330.6L190.4,329.3L181.8,328.0Z"/>
<path d="M148.5,305.2L157.5,306.9L166.5,308.5L175.4,310.1L184.4,311.5L181.8,328.0L190.0,329.2L198.1,330.5L206.3,331.6L197.1,397.7L187.9,396.4L178.7,395.0L169.5,393.6L160.3,392.0L151.1,390.5L142.0,388.8L132.8,387.1Z"/>
<path d="M206.3,331.6L214.9,332.8L223.4,333.9L232.0,334.9L240.6,335.8L249.3,336.7L257.9,337.6L266.5,338.4L275.1,339.1L283.8,339.7L292.4,340.3L288.1,406.9L279.0,406.3L269.9,405.6L260.8,404.8L251.7,404.0L242.6,403.1L233.5,402.2L224.4,401.2L215.3,400.1L206.2,398.9L197.1,397.7Z"/>
<path d="M132.8,387.1L142.0,388.8L151.1,390.5L160.3,392.0L169.5,393.6L178.7,395.0L187.9,396.4L197.1,397.7L184.2,491.2L174.9,489.9L165.5,488.5L156.1,487.0L108.2,458.8L110.1,455.3L113.8,450.8L115.8,442.3L116.5,436.5L118.4,433.9L123.0,431.0L119.6,427.8L118.9,421.7L118.7,418.3L120.0,416.0L119.7,410.0L120.6,401.4L125.5,400.1L129.2,401.7L130.3,400.3Z"/>
<path d="M197.1,397.7L205.9,398.9L214.6,400.0L223.3,401.0L232.0,402.0L240.8,402.9L249.5,403.8L258.2,404.6L267.0,405.3L275.8,406.0L274.6,414.3L268.8,489.0L258.9,488.2L249.0,487.4L239.1,486.4L229.2,485.5L219.4,484.4L220.2,488.2L212.4,487.3L204.7,486.3L196.9,485.3L195.9,492.8L190.1,492.0L184.2,491.2Z"/>
<path d="M278.9,206.7L286.4,207.3L293.8,207.9L301.3,208.4L308.8,208.8L316.3,209.2L323.7,209.6L331.2,209.8L338.7,210.1L346.2,210.3L353.7,210.4L354.7,218.6L354.3,226.7L357.6,233.3L357.8,243.2L358.6,249.8L360.3,254.2L360.7,260.7L352.1,260.6L343.5,260.4L334.9,260.2L326.3,259.9L317.7,259.6L309.0,259.1L300.4,258.7L291.8,258.1L283.2,257.5L274.7,256.8Z"/>
<path d="M274.7,256.8L283.2,257.5L291.8,258.1L300.4,258.7L309.0,259.1L317.7,259.6L326.3,259.9L334.9,260.2L343.5,260.4L352.1,260.6L360.7,260.7L357.2,266.3L361.9,271.3L361.8,301.1L360.2,304.4L360.9,309.4L361.8,317.9L358.7,316.0L355.1,313.2L350.3,311.4L344.3,312.5L337.1,309.0L328.8,308.7L320.5,308.4L312.1,308.1L303.8,307.6L295.5,307.1L287.2,306.6L278.9,306.0L270.5,305.3Z"/>
<path d="M270.5,305.3L278.9,306.0L287.2,306.6L295.5,307.1L303.8,307.6L312.1,308.1L320.5,308.4L328.8,308.7L337.1,309.0L344.3,312.5L350.3,311.4L355.1,313.2L358.7,316.0L361.8,317.9L363.5,322.7L365.9,331.0L368.0,337.7L369.0,344.3L370.0,349.7L373.4,355.2L375.8,359.3L366.4,359.3L357.0,359.3L347.6,359.2L338.2,359.0L328.9,358.7L319.5,358.4L310.1,358.0L300.7,357.5L291.3,356.9L292.4,340.3L284.2,339.7L275.9,339.1L267.7,338.5Z"/>
<path d="M291.3,356.9L300.7,357.5L310.1,358.0L319.5,358.4L328.9,358.7L338.2,359.0L347.6,359.2L357.0,359.3L366.4,359.3L375.8,359.3L381.0,362.6L378.5,366.8L384.9,373.9L385.2,409.3L375.5,409.4L365.8,409.4L356.1,409.3L346.4,409.2L336.6,409.0L326.9,408.7L317.2,408.4L307.5,408.0L297.8,407.5L288.1,406.9Z"/>
<path d="M275.8,406.0L284.9,406.7L294.0,407.2L303.1,407.7L312.2,408.2L321.3,408.5L330.4,408.8L339.6,409.1L348.7,409.3L357.8,409.4L366.9,409.4L376.1,409.4L385.2,409.3L385.3,417.6L388.1,435.9L387.9,465.2L380.8,461.0L374.0,461.4L367.2,463.6L359.0,461.9L353.5,462.7L350.8,461.0L344.0,459.5L338.7,456.9L331.9,456.4L323.8,453.7L317.1,451.8L313.2,448.9L314.6,416.6L306.7,416.3L298.8,415.9L290.9,415.4L283.0,414.9L275.1,414.3Z"/>
<path d="M274.6,414.3L282.6,414.9L290.6,415.4L298.6,415.8L306.6,416.3L314.6,416.6L313.2,448.9L317.1,451.8L323.8,453.7L331.9,456.4L338.7,456.9L344.0,459.5L350.8,461.0L353.5,462.7L359.0,461.9L367.2,463.6L374.0,461.4L380.8,461.0L387.9,465.2L394.0,466.6L394.1,475.4L394.5,492.5L396.5,495.6L397.7,498.9L402.0,505.8L401.8,510.4L399.8,515.5L400.0,523.7L398.1,530.4L390.2,533.0L385.2,536.4L380.2,540.6L377.3,543.9L367.2,549.7L361.3,553.0L352.5,560.4L348.0,565.3L346.4,573.5L347.1,581.7L349.9,590.7L349.9,592.2L344.6,593.6L334.2,590.1L320.9,584.3L316.1,574.3L315.6,566.1L312.1,562.7L304.5,552.4L301.8,545.7L296.6,534.7L289.8,527.4L277.0,524.8L271.1,527.4L263.8,538.9L259.0,535.6L252.0,532.5L245.3,526.1L243.1,519.3L239.7,509.0L234.4,505.2L226.9,495.2L222.0,488.8L220.2,488.2L219.4,484.4L229.2,485.5L239.1,486.4L249.0,487.4L258.9,488.2L268.8,489.0Z"/>
<path d="M353.7,210.4L361.3,210.4L368.9,210.5L376.5,210.4L376.4,204.2L380.0,205.2L382.0,214.4L391.5,217.9L395.9,216.6L400.8,216.1L407.1,222.0L418.4,224.4L425.6,223.6L433.9,223.1L439.7,224.2L430.6,229.0L423.4,235.2L416.2,241.8L411.5,246.4L409.4,248.0L409.8,257.7L409.1,259.7L404.7,265.7L406.0,268.9L405.1,275.6L404.6,279.7L410.6,283.7L415.5,286.8L421.7,292.3L423.6,294.7L424.2,299.7L415.3,300.1L406.4,300.4L397.4,300.7L388.5,300.9L379.6,301.0L370.7,301.1L361.8,301.1L361.9,271.3L357.2,266.3L360.7,260.7L360.3,254.2L358.6,249.8L357.8,243.2L357.6,233.3L354.3,226.7L354.7,218.6L353.7,210.4Z"/>
<path d="M361.8,301.1L370.7,301.1L379.6,301.0L388.5,300.9L397.4,300.7L406.4,300.4L415.3,300.1L424.2,299.7L425.8,304.6L425.3,309.6L432.0,315.7L437.7,322.2L438.6,327.1L436.5,331.5L428.0,334.4L427.7,341.1L429.7,342.7L427.9,344.4L424.4,348.8L424.3,351.6L420.2,348.0L420.3,348.1L411.9,348.5L403.5,348.8L395.1,349.0L386.8,349.2L378.4,349.3L370.0,349.3L370.0,349.7L369.0,344.3L368.0,337.7L365.9,331.0L363.5,322.7L361.8,317.9L360.9,309.4L360.2,304.4L361.8,301.1Z"/>
<path d="M370.0,349.7L370.0,349.3L378.4,349.3L386.8,349.2L395.1,349.0L403.5,348.8L411.9,348.5L420.3,348.1L424.3,351.6L423.6,358.0L424.9,359.6L429.7,366.9L434.5,374.1L437.8,374.8L441.3,377.1L441.5,379.9L439.8,387.2L445.9,391.8L451.7,401.5L452.7,406.4L456.9,406.5L456.4,412.9L453.9,414.7L452.2,414.8L451.6,419.9L450.5,423.3L446.1,423.6L441.7,423.9L444.1,415.4L434.3,415.9L424.5,416.4L414.7,416.8L404.9,417.2L395.1,417.4L385.3,417.6L384.9,373.9L378.5,366.8L381.0,362.6L375.8,359.3L373.4,355.2L370.0,349.7Z"/>
<path d="M385.3,417.6L395.1,417.4L404.9,417.2L414.7,416.8L424.5,416.4L434.3,415.9L444.1,415.4L441.7,423.9L446.1,423.6L450.5,423.3L447.7,431.0L446.2,438.1L443.6,440.4L443.8,442.9L440.5,449.0L436.4,455.9L434.0,462.7L432.9,467.7L433.6,474.3L423.8,474.8L413.9,475.2L404.0,475.5L394.2,475.8L394.0,466.6L387.9,465.2L388.1,435.9Z"/>
<path d="M394.1,475.4L394.2,475.8L404.0,475.5L413.9,475.2L423.8,474.8L433.6,474.3L435.0,480.9L437.9,484.9L434.9,492.6L431.6,497.7L429.1,503.7L428.8,507.8L437.8,507.4L446.7,506.9L455.6,506.3L454.3,511.9L457.5,517.8L459.5,519.7L458.4,520.2L464.2,520.7L461.7,525.8L462.0,530.8L468.1,535.3L466.2,538.7L462.6,539.8L461.6,534.9L456.5,534.5L452.3,537.2L450.9,538.4L442.3,539.4L434.9,536.5L427.5,532.7L421.8,532.1L411.6,530.0L398.1,530.4L400.0,523.7L399.8,515.5L401.8,510.4L402.0,505.8L397.7,498.9L396.5,495.6L394.5,492.5Z"/>
<path d="M409.4,248.0L412.6,247.2L421.6,244.0L426.6,242.4L425.8,248.2L430.7,248.4L434.4,252.0L446.2,254.5L449.2,256.1L458.0,257.2L461.8,261.4L464.0,266.2L464.9,270.3L461.0,279.7L466.4,274.3L471.0,267.2L468.9,275.7L466.9,281.7L465.5,290.2L463.8,298.6L464.9,304.4L466.3,313.6L466.3,313.4L457.7,314.1L449.2,314.8L440.6,315.4L432.0,315.9L432.0,315.7L425.3,309.6L425.8,304.6L424.2,299.7L423.6,294.7L421.7,292.3L415.5,286.8L410.6,283.7L404.6,279.7L405.1,275.6L406.0,268.9L404.7,265.7L409.1,259.7L409.8,257.7L409.4,248.0Z"/>
<path d="M432.0,315.7L432.0,315.9L440.6,315.4L449.2,314.8L457.7,314.1L466.3,313.4L469.7,324.0L470.7,326.4L474.2,365.4L473.7,369.6L475.5,375.3L472.8,380.6L470.5,385.0L470.1,391.7L469.6,396.8L465.2,398.8L465.6,404.3L463.7,404.3L458.3,402.7L456.9,406.5L452.7,406.4L451.7,401.5L445.9,391.8L439.8,387.2L441.5,379.9L441.3,377.1L437.8,374.8L434.5,374.1L429.7,366.9L424.9,359.6L423.6,358.0L424.3,351.6L424.4,348.8L427.9,344.4L429.7,342.7L427.7,341.1L428.0,334.4L436.5,331.5L438.6,327.1L437.7,322.2L432.0,315.7Z"/>
<path d="M470.7,326.4L474.9,327.2L479.3,324.6L487.5,323.8L495.7,322.9L503.9,322.0L508.8,366.0L504.8,373.2L501.6,373.6L498.6,381.1L495.2,386.0L489.6,388.2L483.2,388.9L475.8,388.4L470.1,391.7L470.5,385.0L472.8,380.6L475.5,375.3L473.7,369.6L474.2,365.4Z"/>
<path d="M479.3,324.6L482.6,318.6L484.5,307.5L480.1,293.8L480.2,287.9L481.2,275.3L483.2,271.8L488.5,266.2L488.6,272.9L490.7,265.2L495.1,262.7L492.8,258.3L496.8,255.6L503.2,257.4L508.2,260.2L513.3,265.6L515.6,271.3L516.5,277.8L510.3,285.3L510.8,289.4L516.2,284.6L521.1,281.0L525.8,284.9L529.4,297.8L529.8,304.5L525.6,309.3L523.2,314.6L520.3,320.4L520.3,320.6L512.1,321.6L503.9,322.6L503.9,322.0L495.7,322.9L487.5,323.8L479.3,324.6ZM430.7,248.4L441.7,243.3L450.0,237.5L459.2,231.3L457.5,236.7L456.5,240.0L466.7,243.0L473.3,245.0L478.3,244.0L490.8,240.5L497.5,242.5L501.7,243.3L504.2,248.3L510.0,249.5L508.3,251.5L500.0,251.7L495.8,253.7L490.0,252.5L483.3,253.7L478.3,256.3L473.3,258.3L470.8,261.7L464.9,270.3L464.0,266.2L461.8,261.4L458.0,257.2L449.2,256.1L446.2,254.5L434.4,252.0L430.7,248.4ZM446.0,222.5L448.5,221.0L449.0,222.0L446.5,223.8Z"/>
<path d="M504.0,322.9L503.9,322.6L512.1,321.6L520.3,320.6L526.2,322.6L530.1,323.8L538.5,321.7L542.1,321.2L549.7,314.1L555.1,311.0L558.7,333.0L557.4,334.8L558.9,340.4L557.8,342.8L557.2,349.2L553.6,354.8L550.4,355.0L549.4,357.6L547.8,363.3L544.1,362.5L542.5,366.3L543.0,369.9L540.3,373.3L538.5,373.6L534.5,368.9L532.6,369.2L529.1,371.9L523.3,371.8L517.3,370.0L515.6,366.9L512.9,365.5L508.8,366.0Z"/>
<path d="M508.8,366.0L512.9,365.5L515.6,366.9L517.3,370.0L523.3,371.8L529.1,371.9L532.6,369.2L534.5,368.9L538.5,373.6L539.0,377.7L543.9,384.9L548.5,387.0L544.9,391.6L540.3,396.4L535.6,400.4L528.6,405.6L519.1,406.8L509.6,407.9L500.1,409.0L490.6,409.9L481.0,410.9L471.5,411.7L471.4,413.4L462.7,414.1L453.9,414.7L456.4,412.9L456.9,406.5L458.3,402.7L463.7,404.3L465.6,404.3L465.2,398.8L469.6,396.8L470.1,391.7L475.8,388.4L483.2,388.9L489.6,388.2L495.2,386.0L498.6,381.1L501.6,373.6L504.8,373.2L508.8,366.0Z"/>
<path d="M554.6,402.1L555.0,406.1L551.0,410.9L544.1,413.6L540.2,415.0L536.2,419.7L533.2,422.3L526.9,426.0L523.4,429.8L523.5,433.3L523.5,433.1L513.6,434.3L503.6,435.4L493.6,436.5L483.6,437.4L473.6,438.3L463.6,439.1L453.6,439.8L443.6,440.4L446.2,438.1L447.7,431.0L450.5,423.3L451.6,419.9L452.2,414.8L453.9,414.7L462.7,414.1L471.4,413.4L471.5,411.2L471.5,411.7L480.8,410.9L490.0,410.0L499.3,409.1L508.5,408.0L517.8,406.9L527.0,405.8L536.2,404.6L545.4,403.3L554.6,401.9Z"/>
<path d="M443.6,440.4L453.0,439.8L462.4,439.2L471.7,438.4L473.2,440.0L472.2,483.5L473.4,505.0L475.2,515.4L468.1,515.4L462.5,517.5L459.5,519.7L457.5,517.8L454.3,511.9L455.6,506.3L446.7,506.9L437.8,507.4L428.8,507.8L429.1,503.7L431.6,497.7L434.9,492.6L437.9,484.9L435.0,480.9L433.6,474.3L432.9,467.7L434.0,462.7L436.4,455.9L440.5,449.0L443.8,442.9L443.6,440.4Z"/>
<path d="M471.7,438.4L480.4,437.7L489.0,436.9L497.7,436.0L506.3,435.1L506.4,435.5L516.1,469.7L519.7,477.2L520.3,490.5L522.1,500.3L513.0,501.3L503.9,502.3L494.8,503.2L485.6,504.0L485.8,506.5L489.2,512.0L487.8,515.8L482.5,517.1L482.2,514.3L480.5,510.3L479.5,515.3L475.2,515.4L473.4,505.0L472.2,483.5L473.2,440.0L471.7,438.4Z"/>
<path d="M506.4,435.5L506.3,435.1L514.7,434.2L523.0,433.2L531.3,432.1L539.6,431.0L537.1,436.4L543.7,439.7L546.3,443.6L551.8,448.7L558.8,454.0L565.9,460.0L568.4,467.2L572.9,473.2L573.8,474.8L577.2,475.4L574.4,483.1L571.4,491.1L572.5,498.1L570.4,498.5L564.3,498.9L565.0,505.1L562.1,502.2L524.7,505.0L522.1,500.3L520.3,490.5L519.7,477.2L516.1,469.7L506.4,435.5Z"/>
<path d="M485.6,504.0L494.8,503.2L503.9,502.3L513.0,501.3L522.1,500.3L524.7,505.0L562.1,502.2L565.0,505.1L564.3,498.9L570.4,498.5L572.5,498.1L574.4,505.0L577.1,511.1L582.8,522.0L591.4,532.9L591.4,539.0L596.6,548.1L602.5,556.4L604.3,566.8L604.6,575.0L603.0,581.9L602.0,585.4L591.8,588.2L587.3,579.5L580.9,577.2L578.8,573.3L574.3,568.2L570.7,564.6L567.0,559.3L562.4,553.3L561.1,549.4L559.4,546.0L559.5,538.0L559.9,530.4L553.9,527.4L547.7,521.2L543.4,516.0L538.0,513.3L533.4,516.4L524.6,521.3L519.7,522.7L518.5,519.0L513.9,515.7L502.1,512.8L492.3,514.5L487.8,515.8L489.2,512.0L485.8,506.5L485.6,504.0ZM582.7,599.2L590.0,596.4L595.7,593.9L600.5,589.8L599.6,589.1L594.1,593.0L582.5,598.1Z"/>
<path d="M539.6,431.0L549.2,426.3L566.7,424.5L567.0,426.1L568.3,425.1L571.0,429.4L585.8,427.2L603.7,440.1L599.6,443.6L596.7,452.4L595.3,456.0L588.1,461.5L583.7,466.4L579.2,473.1L577.2,475.4L573.8,474.8L572.9,473.2L568.4,467.2L565.9,460.0L558.8,454.0L551.8,448.7L546.3,443.6L543.7,439.7L537.1,436.4L539.6,431.0Z"/>
<path d="M523.5,433.3L523.4,429.8L526.9,426.0L533.2,422.3L536.2,419.7L540.2,415.0L544.1,413.6L551.0,410.9L555.0,406.1L554.6,402.1L554.7,402.7L564.2,401.3L573.6,399.7L583.0,398.1L592.4,396.4L601.8,394.7L611.2,392.8L620.5,390.9L629.9,389.0L633.0,394.3L633.1,396.6L626.0,398.1L625.1,400.0L632.3,399.0L634.6,401.6L633.6,405.2L630.4,409.3L624.3,409.4L624.7,411.4L629.0,412.5L630.4,415.6L628.0,422.6L621.5,422.7L615.8,428.5L612.8,434.1L611.6,438.6L603.7,440.1L585.8,427.2L571.0,429.4L568.3,425.1L567.0,426.1L566.7,424.5L549.2,426.3L539.6,431.0L531.6,432.1L523.5,433.1Z"/>
<path d="M528.6,405.6L535.6,400.4L540.3,396.4L544.9,391.6L548.5,387.0L553.1,392.0L558.9,390.4L563.4,387.9L570.0,383.9L573.0,375.3L575.3,365.1L580.2,366.9L584.6,360.4L587.8,355.4L588.9,347.7L596.4,351.7L597.2,348.5L599.7,348.8L604.1,352.6L607.0,353.7L607.6,357.0L605.3,360.5L609.2,361.8L612.4,364.5L620.5,368.1L620.7,373.0L622.8,382.8L626.9,383.1L629.9,389.0L620.7,390.9L611.6,392.8L602.4,394.6L593.2,396.3L584.1,397.9L574.9,399.5L565.6,401.0L556.4,402.5L547.2,403.9L537.9,405.2L528.7,406.4ZM626.7,364.2L633.3,363.3L632.0,373.3L630.8,385.0L627.8,387.0L626.3,380.0L625.3,371.7Z"/>
<path d="M538.5,373.6L540.3,373.3L543.0,369.9L542.5,366.3L544.1,362.5L547.8,363.3L549.4,357.6L550.4,355.0L553.6,354.8L557.2,349.2L557.8,342.8L558.9,340.4L557.4,334.8L558.7,333.0L561.2,348.2L567.7,347.1L574.1,346.0L575.6,354.5L579.6,349.2L581.5,349.2L583.3,345.5L587.4,346.5L590.3,343.4L594.7,344.2L595.8,346.6L597.2,348.5L596.4,351.7L588.9,347.7L587.8,355.4L584.6,360.4L580.2,366.9L575.3,365.1L573.0,375.3L570.0,383.9L563.4,387.9L558.9,390.4L553.1,392.0L548.5,387.0L543.9,384.9L539.0,377.7L538.5,373.6Z"/>
<path d="M574.1,346.0L583.3,344.3L592.4,342.6L601.5,340.8L610.6,339.0L619.7,337.1L625.3,357.4L625.3,357.5L629.4,356.6L633.5,355.7L632.6,363.1L627.7,365.5L624.3,362.0L619.4,360.5L616.9,355.0L617.2,349.9L618.3,342.8L617.1,340.5L613.8,346.3L614.2,351.4L615.1,358.8L617.1,361.8L619.0,365.9L620.5,368.1L612.4,364.5L609.2,361.8L605.3,360.5L607.6,357.0L607.0,353.7L604.1,352.6L599.7,348.8L597.2,348.5L595.8,346.6L594.7,344.2L590.3,343.4L587.4,346.5L583.3,345.5L581.5,349.2L579.6,349.2L575.6,354.5Z"/>
<path d="M619.7,337.1L621.7,334.8L624.0,334.8L623.1,338.4L624.3,340.7L626.9,342.7L628.4,346.6L631.8,350.1L633.5,355.7L629.4,356.6L625.3,357.5Z"/>
<path d="M627.1,307.4L638.0,311.0L637.7,316.2L635.7,320.1L638.9,320.2L640.4,331.9L637.9,339.1L633.0,347.6L631.3,343.4L625.7,341.2L623.1,338.4L624.0,334.8L627.4,331.4L630.7,326.4L626.2,323.2L623.6,320.3L623.3,314.9L627.1,307.4Z"/>
<path d="M555.1,311.0L560.0,307.7L563.4,304.7L564.2,309.1L573.0,307.6L581.8,306.0L590.6,304.3L599.3,302.5L608.1,300.7L616.8,298.8L621.0,301.3L624.3,306.5L627.1,307.4L623.3,314.9L623.6,320.3L626.2,323.2L630.7,326.4L627.4,331.4L624.0,334.8L621.7,334.8L619.7,337.1L611.4,338.8L603.1,340.5L594.7,342.2L586.4,343.8L578.0,345.3L569.6,346.8L561.2,348.2Z"/>
<path d="M563.4,304.7L571.3,296.1L571.8,292.6L569.0,287.2L575.1,284.0L586.1,284.0L595.3,281.3L598.3,277.8L601.5,275.8L600.3,270.1L598.0,266.7L603.0,260.2L605.6,255.4L611.3,249.0L613.6,248.5L621.3,246.7L629.0,244.9L628.9,244.7L631.5,252.8L631.9,259.5L633.3,266.8L635.9,268.4L638.7,280.9L638.7,292.9L638.9,292.9L641.1,305.2L642.3,306.4L639.7,308.9L641.0,310.3L640.4,313.0L643.1,311.2L649.0,308.9L653.6,307.2L657.4,303.4L659.3,304.4L662.2,303.8L656.7,309.4L646.7,315.3L638.0,318.4L637.7,316.2L638.0,311.0L627.1,307.4L624.3,306.5L621.0,301.3L616.8,298.8L608.1,300.7L599.3,302.5L590.6,304.3L581.8,306.0L573.0,307.6L564.2,309.1Z"/>
<path d="M638.9,292.9L638.9,293.0L645.6,291.4L652.2,289.7L658.9,288.0L658.9,288.3L660.8,295.1L661.2,299.8L655.5,302.1L649.0,304.1L645.8,306.6L641.0,310.3L639.7,308.9L642.3,306.4L641.1,305.2L638.9,292.9Z"/>
<path d="M658.9,288.3L661.4,287.7L663.9,287.0L664.4,289.0L665.5,290.7L667.5,291.9L669.2,294.6L668.4,295.3L665.5,298.0L661.2,299.8L660.8,295.1L658.9,288.3Z"/>
<path d="M638.7,280.9L638.8,281.2L646.7,279.3L654.5,277.3L662.4,275.2L664.7,272.2L666.8,271.6L670.3,274.5L667.9,279.4L666.9,280.5L671.1,282.0L672.8,285.9L675.1,287.5L678.7,286.5L679.8,285.1L678.6,282.5L676.8,282.1L681.6,283.4L683.3,288.6L678.6,291.0L674.9,293.4L672.3,291.2L669.2,294.6L667.5,291.9L665.5,290.7L664.4,289.0L663.9,287.0L655.6,289.2L647.3,291.3L639.0,293.4L638.7,292.9ZM672.8,295.3L676.8,293.4L677.9,295.2L673.9,296.8ZM680.3,294.7L683.6,293.6L684.1,295.3L681.3,296.1Z"/>
<path d="M628.9,244.7L635.9,243.0L642.9,241.2L649.8,239.4L649.5,244.0L651.2,248.0L647.3,254.8L646.3,262.8L646.6,269.5L646.7,272.4L646.7,277.2L648.3,278.9L643.5,280.1L638.8,281.2L638.7,280.9L635.9,268.4L633.3,266.8L631.9,259.5L631.5,252.8L628.9,244.7Z"/>
<path d="M649.8,239.4L649.9,235.3L650.9,234.2L653.3,233.5L656.7,243.8L658.5,249.3L662.1,261.2L665.7,267.6L667.1,268.1L666.8,271.6L664.7,272.2L662.3,275.1L662.4,275.4L655.4,277.2L648.3,279.1L648.3,278.9L646.7,277.2L646.7,272.4L646.6,269.5L646.3,262.8L647.3,254.8L651.2,248.0L649.5,244.0L649.8,239.4Z"/>
<path d="M653.3,233.5L656.0,231.1L658.7,223.5L658.9,217.5L659.2,208.0L664.2,193.5L666.8,195.5L669.0,196.9L674.6,192.2L681.5,195.1L687.0,212.7L688.0,216.7L692.4,217.1L695.1,224.0L696.3,223.0L701.0,226.5L701.9,228.0L696.1,235.0L690.3,240.2L682.8,239.9L681.3,247.2L674.6,254.3L670.5,257.2L669.3,261.8L668.3,267.2L667.1,268.1L665.7,267.6L662.1,261.2L658.5,249.3L656.7,243.8L653.3,233.5Z"/>
<path d="M101.3,504.4L111.8,557.3L117.4,557.9L123.5,563.0L125.5,559.2L127.8,556.4L136.1,562.4L144.1,570.7L150.9,572.6L152.5,577.5L148.1,579.1L141.8,581.2L136.6,575.6L132.3,572.0L127.6,566.7L122.1,563.3L116.0,560.6L110.7,559.6L103.6,560.5L97.6,559.0L96.0,557.4L92.1,561.9L88.0,564.0L81.4,567.2L82.2,564.9L86.0,555.4L81.9,557.9L77.8,564.4L74.3,569.1L68.7,577.1L62.1,582.6L53.6,587.7L46.8,589.9L38.8,591.0L45.4,587.9L52.3,584.7L60.9,577.9L64.3,571.1L65.9,570.0L61.5,569.2L55.4,569.8L51.0,569.1L52.1,564.2L50.5,561.1L45.2,557.4L43.4,551.2L42.8,547.0L46.7,543.0L51.5,543.1L56.9,541.4L57.6,539.2L57.5,535.7L52.6,535.1L46.7,534.1L44.5,530.8L41.6,526.7L47.0,524.2L52.0,525.6L56.7,525.1L55.3,521.4L53.1,517.7L47.5,511.7L49.3,508.9L55.6,505.3L59.0,502.3L70.1,497.2L76.8,499.8L82.8,501.9L86.8,502.4L92.9,503.7ZM80.1,574.8L79.6,578.3L74.9,581.2L73.0,578.3L76.4,574.9L78.2,573.1ZM32.5,594.0L28.4,596.7L24.8,597.1L29.6,594.6ZM30.5,535.9L35.9,540.8L36.8,539.3L34.4,536.3ZM39.4,557.6L41.3,560.3L40.3,560.7L36.9,558.3Z"/>
<path d="M229.3,576.2L240.3,581.1L246.6,588.4L235.7,595.1L232.6,598.4L228.6,595.1L227.0,584.4ZM216.9,564.7L223.8,564.7L227.7,568.0L221.5,570.8L216.9,567.2ZM207.5,560.6L216.1,561.1L213.8,563.1L207.5,562.2ZM192.4,554.5L197.5,552.4L202.1,558.9L195.1,559.3ZM169.2,546.4L172.8,543.5L176.7,544.9L175.9,549.0L172.0,549.2ZM211.4,565.5L214.5,566.0L213.8,568.0L211.4,567.2Z"/>
</g></svg>
<div class="t" style="left:17.80px;top:13.31px;font:normal bold 32px/48px 'Liberation Sans',sans-serif;letter-spacing:-0.372px;color:#17345c">Nearly Half the States Require Nonresidents</div>
<div class="t" style="left:17.60px;top:51.41px;font:normal bold 32px/48px 'Liberation Sans',sans-serif;letter-spacing:-0.433px;color:#17345c">to File Income Taxes After Single Day of Work</div>
<div class="t" style="left:17.60px;top:105.47px;font:italic normal 20px/30px 'Liberation Sans',sans-serif;letter-spacing:0.352px;color:#3a3a3a">Nonresident Individual Income Tax Filing Thresholds as of January 1,</div>
<div class="t" style="left:17.80px;top:130.47px;font:italic normal 20px/30px 'Liberation Sans',sans-serif;letter-spacing:0.300px;color:#3a3a3a">2025</div>
<div class="t" style="left:16.80px;top:610.50px;font:normal bold 15px/22px 'Liberation Sans',sans-serif;letter-spacing:0.238px;color:#1e1e1e">Filing Threshold Type</div>
<div class="t" style="left:38.30px;top:635.04px;font:normal normal 17.5px/26px 'Liberation Mono',monospace;letter-spacing:-0.606px;color:#303030;-webkit-text-stroke:0.18px #303030">Filing Generally Required on Day One</div>
<div class="t" style="left:38.30px;top:661.66px;font:normal normal 17.5px/26px 'Liberation Mono',monospace;letter-spacing:-0.599px;color:#303030;-webkit-text-stroke:0.18px #303030">Income Threshold</div>
<div class="t" style="left:38.30px;top:688.28px;font:normal normal 17.5px/26px 'Liberation Mono',monospace;letter-spacing:-0.607px;color:#303030;-webkit-text-stroke:0.18px #303030">Day Threshold with Mutuality Requirement</div>
<div class="t" style="left:38.30px;top:714.90px;font:normal normal 17.5px/26px 'Liberation Mono',monospace;letter-spacing:-0.597px;color:#303030;-webkit-text-stroke:0.18px #303030">Day Threshold</div>
<div class="t" style="left:38.30px;top:741.52px;font:normal normal 17.5px/26px 'Liberation Mono',monospace;letter-spacing:-0.604px;color:#303030;-webkit-text-stroke:0.18px #303030">Day and Income Threshold</div>
<div class="t" style="left:38.30px;top:768.14px;font:normal normal 17.5px/26px 'Liberation Mono',monospace;letter-spacing:-0.608px;color:#303030;-webkit-text-stroke:0.18px #303030">No Individual Income Tax or Nonresidents Not Taxed</div>
<div class="t" style="left:17.40px;top:816.72px;font:normal normal 13.5px/20px 'Liberation Sans',sans-serif;letter-spacing:0.300px;color:#848484">Note: In states with a mutuality requirement, day threshold applies only to nonresidents who live in a state</div>
<div class="t" style="left:17.40px;top:833.22px;font:normal normal 13.5px/20px 'Liberation Sans',sans-serif;letter-spacing:0.301px;color:#848484">with no individual income tax or with a &quot;substantially similar exclusion.&quot; Minnesota and Oregon&#x27;s thresholds</div>
<div class="t" style="left:17.40px;top:849.72px;font:normal normal 13.5px/20px 'Liberation Sans',sans-serif;letter-spacing:0.272px;color:#848484">are adjusted annually for inflation; 2025 threshold is shown. Oregon&#x27;s threshold varies by filing status; single</div>
<div class="t" style="left:17.40px;top:866.22px;font:normal normal 13.5px/20px 'Liberation Sans',sans-serif;letter-spacing:0.321px;color:#848484">filer amount is shown. Washington taxes capital gains income only; this tax applies to nonresidents in only</div>
<div class="t" style="left:17.40px;top:882.72px;font:normal normal 13.5px/20px 'Liberation Sans',sans-serif;letter-spacing:0.332px;color:#848484">rare circumstances. Federal law prohibits the District of Columbia from taxing nonresidents&#x27; income.</div>
<div class="t" style="left:17.40px;top:899.22px;font:normal normal 13.5px/20px 'Liberation Sans',sans-serif;letter-spacing:0.310px;color:#848484">Source: State tax statutes, forms, and instructions; Bloomberg Tax.</div>
<div class="t" style="left:17.60px;top:928.32px;font:normal normal 13.5px/20px 'Liberation Sans',sans-serif;letter-spacing:0.247px;color:#6e6e6e">Map: Katherine Loughead</div>
<div class="t" style="left:535.30px;top:928.22px;font:normal normal 21px/32px 'Liberation Sans',sans-serif;letter-spacing:-1.053px;color:#263d5f;-webkit-text-stroke:0.35px #263d5f">TAX FOUNDATION</div>
<div class="sw" style="top:638.20px;background:#24578e"></div><div class="sw" style="top:664.82px;background:#52d39a"></div><div class="sw" style="top:691.44px;background:#d4a40a"></div><div class="sw" style="top:718.06px;background:#ffc70a"></div><div class="sw" style="top:744.68px;background:#5b9bd5"></div><div class="sw" style="top:771.30px;background:#c1c1c1"></div>
<svg width="720" height="977" viewBox="0 0 720 977">
<defs><clipPath id="lc"><circle cx="516.5" cy="944" r="14.4"/></clipPath></defs>
<circle cx="516.5" cy="944" r="14.4" fill="#24589a"/>
<g clip-path="url(#lc)">
<rect x="510.3" y="936.6" width="1.4" height="3" fill="#f4f6f9"/>
<path d="M506.3,947.2 C506.3,942.3 508.4,939.4 511,939.4 C513.6,939.4 515.7,942.3 515.7,947.2 Z" fill="#f4f6f9"/>
<rect x="506" y="947.2" width="10" height="3" fill="#e9edf3"/>
<rect x="504.6" y="950.2" width="12.8" height="3" fill="#f4f6f9"/>
<rect x="503" y="953.2" width="21" height="2.2" fill="#dfe5ee"/>
<rect x="500" y="955.4" width="30" height="4" fill="#f4f6f9"/>
</g>
</svg>

</body></html>
